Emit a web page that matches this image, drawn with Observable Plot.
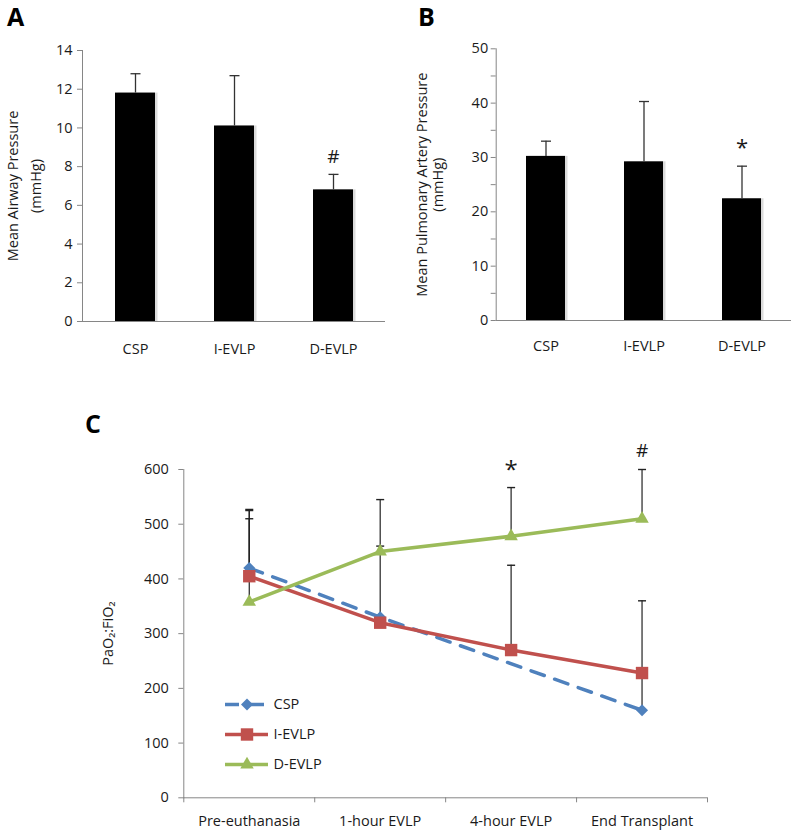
<!DOCTYPE html>
<html>
<head>
<meta charset="utf-8">
<script src="https://cdn.jsdelivr.net/npm/d3@7"></script>
<script src="https://cdn.jsdelivr.net/npm/@observablehq/plot@0.6"></script>
<style>
  body { margin: 0; background: #fff; }
  #root { position: relative; width: 800px; height: 840px; font-family: "Open Sans", sans-serif; background: #fff; }
  .panel { position: absolute; }
  .panel svg text { fill: #1a1a1a; }
  .letter { position: absolute; font-family: "Open Sans", sans-serif; font-weight: 700; font-size: 25px; line-height: 25px; color: #000; }
</style>
</head>
<body>
<div id="root"></div>
<script>
// ---------- DATA ----------
const barCategories = ["CSP", "I-EVLP", "D-EVLP"];

// Panel A: Mean Airway Pressure (mmHg)
const airwayMean = [11.8, 10.1, 6.8];
const airwayErr = [1.0, 2.6, 0.8];
const airwaySig = ["", "", "#"];
const airwayTicks = [0, 2, 4, 6, 8, 10, 12, 14];

// Panel B: Mean Pulmonary Artery Pressure (mmHg)
const papMean = [30.2, 29.2, 22.4];
const papErr = [2.8, 11.1, 6.0];
const papSig = ["", "", "*"];
const papTicks = [0, 5, 10, 15, 20, 25, 30, 35, 40, 45, 50];
const papTickLabels = [0, 10, 20, 30, 40, 50];

// Panel C: PaO2:FiO2
const timepoints = ["Pre-euthanasia", "1-hour EVLP", "4-hour EVLP", "End Transplant"];
const seriesNames = ["CSP", "I-EVLP", "D-EVLP"];
const cspRatio = [420, 330, null, 160];
const iEvlpRatio = [405, 320, 270, 228];
const dEvlpRatio = [358, 450, 478, 510];
const cspRatioErr = [90, null, null, 200];
const iEvlpRatioErr = [122, 140, 155, null];
const dEvlpRatioErr = [167, 95, 89, 90];
const ratioSig = ["", "", "*", "#"];
const ratioTicks = [0, 100, 200, 300, 400, 500, 600];

// ---------- STYLES ----------
const FONT = '"Open Sans", sans-serif';
const AXIS = "#868686";
const FS = 14.5;
const seriesStyle = {
  "CSP":    {color: "#4F81BD", symbol: "diamond2", r: 5.4, dash: "14,11"},
  "I-EVLP": {color: "#C0504D", symbol: "square",   r: 7,   dash: null},
  "D-EVLP": {color: "#9BBB59", symbol: "triangle", r: 5,   dash: null}
};
const capSymbol = {
  draw(context, size) {
    const r = Math.sqrt(size / Math.PI);
    context.moveTo(-r, 0);
    context.lineTo(r, 0);
  }
};
const baseStyle = {fontFamily: FONT, fontSize: FS + "px", color: AXIS, background: "transparent", overflow: "visible"};

const root = document.getElementById("root");
function place(node, left, top, cls = "panel") {
  const div = document.createElement("div");
  div.className = cls;
  div.style.left = left + "px";
  div.style.top = top + "px";
  div.appendChild(node);
  root.appendChild(div);
  return div;
}
function letter(txt, left, top) {
  const div = document.createElement("div");
  div.className = "letter";
  div.style.left = left + "px";
  div.style.top = top + "px";
  div.textContent = txt;
  root.appendChild(div);
}
function sigMarks(rows, xKey, topFn, specs) {
  return specs.map(s => Plot.text(rows.filter(d => d.sig === s.glyph), {
    x: xKey, y: topFn, text: "sig", dy: s.dy, fontSize: s.size, fill: "#000"
  }));
}
function yTitle(txt, dx) {
  return Plot.text([txt], {text: d => d, frameAnchor: "left", textAnchor: "middle", dx, rotate: -90, fontSize: FS});
}

// ---------- PANEL A ----------
const aRows = barCategories.map((c, i) => ({cat: c, value: airwayMean[i], err: airwayErr[i], sig: airwaySig[i]}));
const plotA = Plot.plot({
  width: 390, height: 360,
  marginLeft: 82, marginRight: 5, marginTop: 50, marginBottom: 39,
  style: baseStyle,
  x: {type: "band", domain: barCategories, paddingInner: 0.6, paddingOuter: 0.33, tickSize: 0, tickPadding: 22, label: null},
  y: {domain: [0, 14], ticks: airwayTicks, tickSize: 5, tickPadding: 5, line: true, label: null},
  marks: [
    Plot.barY(aRows, {x: "cat", y: "value", fill: "#888", fillOpacity: 0.3, dx: 2.5}),
    Plot.barY(aRows, {x: "cat", y: "value", fill: "#000"}),
    Plot.ruleX(aRows, {x: "cat", y1: "value", y2: d => d.value + d.err, stroke: "#333", strokeWidth: 1.3}),
    Plot.dot(aRows, {x: "cat", y: d => d.value + d.err, symbol: capSymbol, r: 5, fill: "none", stroke: "#333", strokeWidth: 1.3}),
    ...sigMarks(aRows, "cat", d => d.value + d.err, [{glyph: "#", size: 19, dy: -17}]),
    Plot.ruleY([0], {stroke: AXIS}),
    yTitle("Mean Airway Pressure", -69.5),
    yTitle("(mmHg)", -46.5)
  ]
});
place(plotA, 0, 0);
letter("A", 7, 4);

// ---------- PANEL B ----------
const bRows = barCategories.map((c, i) => ({cat: c, value: papMean[i], err: papErr[i], sig: papSig[i]}));
const plotB = Plot.plot({
  width: 400, height: 360,
  marginLeft: 95.7, marginRight: 9, marginTop: 48.3, marginBottom: 40,
  style: baseStyle,
  x: {type: "band", domain: barCategories, paddingInner: 0.6, paddingOuter: 0.3, tickSize: 0, tickPadding: 20, label: null},
  y: {domain: [0, 50], ticks: papTicks, tickFormat: d => papTickLabels.includes(d) ? String(d) : "", tickSize: 5, tickPadding: 3, line: true, label: null},
  marks: [
    Plot.barY(bRows, {x: "cat", y: "value", fill: "#888", fillOpacity: 0.3, dx: 2.5}),
    Plot.barY(bRows, {x: "cat", y: "value", fill: "#000"}),
    Plot.ruleX(bRows, {x: "cat", y1: "value", y2: d => d.value + d.err, stroke: "#333", strokeWidth: 1.3}),
    Plot.dot(bRows, {x: "cat", y: d => d.value + d.err, symbol: capSymbol, r: 5, fill: "none", stroke: "#333", strokeWidth: 1.3}),
    ...sigMarks(bRows, "cat", d => d.value + d.err, [{glyph: "*", size: 22, dy: -18}]),
    Plot.ruleY([0], {stroke: AXIS}),
    yTitle("Mean Pulmonary Artery Pressure", -73.7),
    yTitle("(mmHg)", -58.2)
  ]
});
place(plotB, 400, 0);
letter("B", 418, 4);

// ---------- PANEL C ----------
const ratioValues = [cspRatio, iEvlpRatio, dEvlpRatio];
const ratioErrs = [cspRatioErr, iEvlpRatioErr, dEvlpRatioErr];
const cRows = seriesNames.flatMap((s, k) => timepoints.map((t, i) => ({
  series: s, i, value: ratioValues[k][i], err: ratioErrs[k][i],
  sig: s === "D-EVLP" ? ratioSig[i] : ""
})));
const errRows = cRows.filter(d => d.value != null && d.err != null);
const topOf = d => d.value + d.err;
const boundaries = d3.range(-0.5, timepoints.length, 1);

const seriesMarks = seriesNames.flatMap(s => {
  const st = seriesStyle[s];
  const rows = cRows.filter(d => d.series === s && d.value != null);
  return [
    Plot.line(rows, {x: "i", y: "value", stroke: st.color, strokeWidth: 3.5, strokeDasharray: st.dash || undefined}),
    Plot.dot(rows, {x: "i", y: "value", symbol: st.symbol, r: st.r, fill: st.color, stroke: "none"})
  ];
});

const plotC = Plot.plot({
  width: 800, height: 470,
  marginLeft: 183.3, marginRight: 93, marginTop: 99, marginBottom: 42.7,
  style: baseStyle,
  x: {domain: [-0.5, timepoints.length - 0.5], ticks: boundaries, tickFormat: () => "", tickSize: 5, label: null},
  y: {domain: [0, 600], ticks: ratioTicks, tickSize: 5, tickPadding: 10, line: true, label: null},
  marks: [
    Plot.ruleY([0], {stroke: AXIS}),
    Plot.ruleX(errRows, {x: "i", y1: "value", y2: topOf, stroke: "#222", strokeWidth: 1.2}),
    Plot.dot(errRows, {x: "i", y: topOf, symbol: capSymbol, r: 4, fill: "none", stroke: "#222", strokeWidth: 1.4}),
    ...seriesMarks,
    ...sigMarks(errRows.filter(d => d.series === "D-EVLP"), "i", topOf, [
      {glyph: "*", size: 24, dy: -17},
      {glyph: "#", size: 19, dy: -19}
    ]),
    Plot.text(timepoints, {x: (d, i) => i, text: d => d, frameAnchor: "bottom", dy: 28, fontSize: FS}),
    yTitle("PaO\u2082:FiO\u2082", -75.8)
  ]
});
place(plotC, 0, 370);
letter("C", 85, 411);

// ---------- LEGEND (panel C) ----------
const legendMarks = seriesNames.flatMap(s => {
  const st = seriesStyle[s];
  return [
    Plot.ruleY([s], {y: d => d, x1: 0, x2: 1, stroke: st.color, strokeWidth: 3.5, strokeDasharray: st.dash || undefined}),
    Plot.dot([s], {x: 0.5, y: d => d, symbol: st.symbol, r: st.r, fill: st.color, stroke: "none"}),
    Plot.text([s], {x: 1, y: d => d, text: d => d, dx: 5, textAnchor: "start", fontSize: FS})
  ];
});
const legend = Plot.plot({
  width: 140, height: 90.7,
  marginLeft: 10, marginRight: 87, marginTop: 15, marginBottom: 15,
  style: baseStyle,
  x: {domain: [0, 1], axis: null},
  y: {type: "point", domain: seriesNames, padding: 0, axis: null},
  marks: legendMarks
});
place(legend, 215, 689.3);
</script>
</body>
</html>
